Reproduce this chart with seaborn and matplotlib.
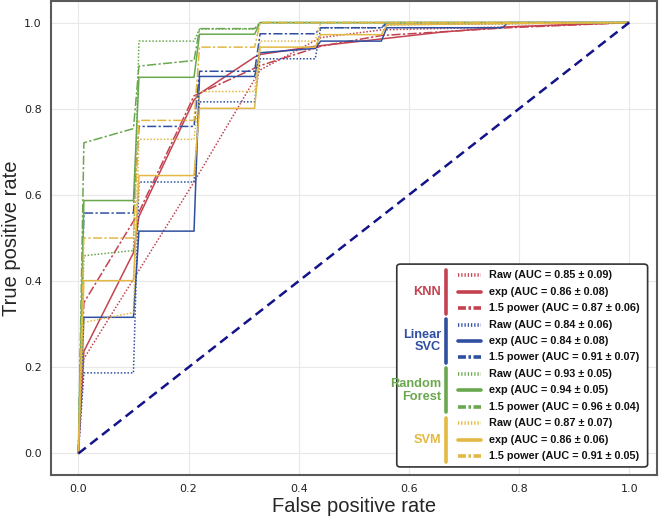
import matplotlib
matplotlib.use("Agg")
import matplotlib.pyplot as plt
import seaborn as sns
from matplotlib.patches import FancyBboxPatch
from matplotlib.lines import Line2D

# mean ROC curves (fpr, tpr)
knn_raw_fpr = [0, 0.01, 0.21, 0.33, 0.44, 0.55, 0.78, 1.0]
knn_raw_tpr = [0, 0.22, 0.63, 0.89, 0.965, 0.983, 0.99, 1.0]
knn_exp_fpr = [0, 0.01, 0.1, 0.11, 0.21, 0.22, 0.32, 0.33, 0.43, 0.55, 0.66, 0.78, 1.0]
knn_exp_tpr = [0, 0.237, 0.466, 0.55, 0.82, 0.835, 0.92, 0.926, 0.945, 0.962, 0.978, 0.99, 1.0]
knn_pow_fpr = [0, 0.01, 0.11, 0.21, 0.33, 0.44, 0.55, 0.78, 1.0]
knn_pow_tpr = [0, 0.35, 0.56, 0.83, 0.90, 0.945, 0.97, 0.988, 1.0]

svc_raw_fpr = [0, 0.01, 0.1, 0.11, 0.21, 0.22, 0.32, 0.33, 0.43, 0.44, 0.55, 0.56, 1.0]
svc_raw_tpr = [0, 0.187, 0.187, 0.630, 0.630, 0.816, 0.816, 0.916, 0.916, 0.988, 0.988, 0.995, 1.0]
svc_exp_fpr = [0, 0.01, 0.1, 0.11, 0.21, 0.22, 0.32, 0.33, 0.43, 0.44, 0.55, 0.56, 0.77, 0.78, 1.0]
svc_exp_tpr = [0, 0.316, 0.316, 0.516, 0.516, 0.875, 0.875, 0.93, 0.94, 0.957, 0.957, 0.988, 0.988, 1.0, 1.0]
svc_pow_fpr = [0, 0.01, 0.1, 0.11, 0.21, 0.22, 0.32, 0.33, 0.43, 0.44, 0.55, 0.56, 1.0]
svc_pow_tpr = [0, 0.558, 0.558, 0.759, 0.759, 0.887, 0.887, 0.974, 0.974, 0.988, 0.988, 1.0, 1.0]

rf_raw_fpr = [0, 0.01, 0.1, 0.11, 0.21, 0.22, 0.32, 0.33, 1.0]
rf_raw_tpr = [0, 0.459, 0.471, 0.957, 0.957, 0.985, 0.985, 1.0, 1.0]
rf_exp_fpr = [0, 0.01, 0.1, 0.11, 0.21, 0.22, 0.32, 0.33, 1.0]
rf_exp_tpr = [0, 0.587, 0.587, 0.873, 0.873, 0.973, 0.973, 1.0, 1.0]
rf_pow_fpr = [0, 0.01, 0.1, 0.11, 0.21, 0.22, 0.32, 0.33, 1.0]
rf_pow_tpr = [0, 0.721, 0.754, 0.899, 0.912, 0.986, 0.986, 1.0, 1.0]

svm_raw_fpr = [0, 0.01, 0.1, 0.11, 0.21, 0.22, 0.32, 0.33, 0.43, 0.44, 1.0]
svm_raw_tpr = [0, 0.304, 0.327, 0.729, 0.729, 0.84, 0.84, 0.957, 0.957, 1.0, 1.0]
svm_exp_fpr = [0, 0.01, 0.1, 0.11, 0.21, 0.22, 0.32, 0.33, 0.43, 0.44, 0.55, 0.56, 1.0]
svm_exp_tpr = [0, 0.401, 0.401, 0.645, 0.645, 0.801, 0.801, 0.943, 0.943, 0.972, 0.972, 0.995, 1.0]
svm_pow_fpr = [0, 0.01, 0.1, 0.11, 0.21, 0.22, 0.32, 0.33, 1.0]
svm_pow_tpr = [0, 0.500, 0.500, 0.773, 0.773, 0.943, 0.943, 1.0, 1.0]

models = ["KNN", "Linear\nSVC", "Random\nForest", "SVM"]
colors = ["#C4424F", "#2F4FA0", "#6AA84F", "#E3B843"]
variants = ["Raw", "exp", "1.5 power"]
auc_text = [
    ["0.85 ± 0.09", "0.86 ± 0.08", "0.87 ± 0.06"],
    ["0.84 ± 0.06", "0.84 ± 0.08", "0.91 ± 0.07"],
    ["0.93 ± 0.05", "0.94 ± 0.05", "0.96 ± 0.04"],
    ["0.87 ± 0.07", "0.86 ± 0.06", "0.91 ± 0.05"],
]
curves = [
    [(knn_raw_fpr, knn_raw_tpr), (knn_exp_fpr, knn_exp_tpr), (knn_pow_fpr, knn_pow_tpr)],
    [(svc_raw_fpr, svc_raw_tpr), (svc_exp_fpr, svc_exp_tpr), (svc_pow_fpr, svc_pow_tpr)],
    [(rf_raw_fpr, rf_raw_tpr), (rf_exp_fpr, rf_exp_tpr), (rf_pow_fpr, rf_pow_tpr)],
    [(svm_raw_fpr, svm_raw_tpr), (svm_exp_fpr, svm_exp_tpr), (svm_pow_fpr, svm_pow_tpr)],
]
styles = [(0, (1, 1.2)), "-", (0, (6, 1.5, 1.5, 1.5))]
leg_styles = [(0, (0.35, 0.55)), "-", (0, (2.2, 0.7, 0.7, 0.7))]

sns.set_style("whitegrid")
plt.rcParams["font.family"] = ["DejaVu Sans"]

fig, ax = plt.subplots(figsize=(6.6, 5.18), dpi=100)
fig.subplots_adjust(left=0.077, right=0.995, bottom=0.083, top=0.998)

for m in range(4):
    for v in range(3):
        fpr, tpr = curves[m][v]
        sns.lineplot(x=fpr, y=tpr, sort=False, estimator=None, ax=ax,
                     color=colors[m], linestyle=styles[v], linewidth=1.1)

sns.lineplot(x=[0, 1], y=[0, 1], sort=False, estimator=None, ax=ax,
             color="#13138A", linestyle=(0, (3.8, 2.2)), linewidth=1.8)

ax.set_xlim(-0.05, 1.05)
ax.set_ylim(-0.05, 1.05)
ax.set_xticks([0, 0.2, 0.4, 0.6, 0.8, 1.0])
ax.set_yticks([0, 0.2, 0.4, 0.6, 0.8, 1.0])
ax.tick_params(labelsize=8, length=3, color="#555555", labelcolor="#222222")
ax.grid(color="#E8E8E8", linewidth=0.8)
for s in ax.spines.values():
    s.set_color("#5A5A5A")
    s.set_linewidth(1.5)
ax.set_xlabel("False positive rate", fontsize=14.5, family="Liberation Sans", labelpad=2)
ax.set_ylabel("True positive rate", fontsize=14.5, family="Liberation Sans", labelpad=2)

# hand-built grouped legend (axes fraction coords)
box = FancyBboxPatch((0.571, 0.017), 0.414, 0.428, transform=ax.transAxes,
                     boxstyle="round,pad=0,rounding_size=0.006",
                     facecolor="white", edgecolor="#333333", linewidth=1.2, zorder=5)
ax.add_patch(box)
row0 = 0.4215
step = 0.0347
for m in range(4):
    for v in range(3):
        i = m * 3 + v
        y = row0 - i * step
        ax.add_line(Line2D([0.672, 0.710], [y, y], transform=ax.transAxes,
                           color=colors[m], linestyle=leg_styles[v], linewidth=2.6, zorder=6))
        ax.text(0.723, y, f"{variants[v]} (AUC = {auc_text[m][v]})", transform=ax.transAxes,
                fontsize=7.8, fontweight="bold", family="Liberation Sans",
                va="center", ha="left", zorder=6, color="#111111")
    ytop = row0 - m * 3 * step + 0.012
    ybot = row0 - (m * 3 + 2) * step - 0.012
    ax.add_line(Line2D([0.653, 0.653], [ybot, ytop], transform=ax.transAxes,
                       color=colors[m], linewidth=2.6, zorder=6))
    ax.text(0.644, row0 - (m * 3 + 1) * step, models[m], transform=ax.transAxes,
            fontsize=9.2, fontweight="bold", family="Liberation Sans", color=colors[m],
            ha="right", va="center", multialignment="right", linespacing=1.1, zorder=6)

fig.savefig("out.png", dpi=100)
